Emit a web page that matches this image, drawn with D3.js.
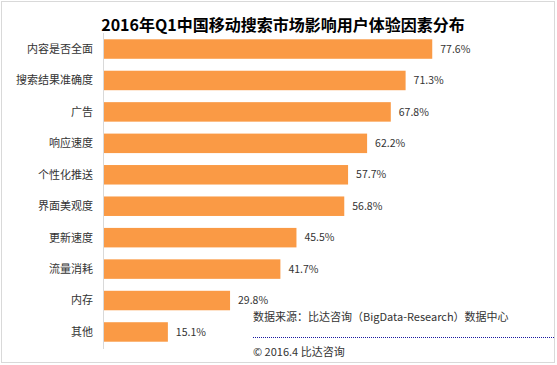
<!DOCTYPE html>
<html><head><meta charset="utf-8">
<script src="https://cdn.jsdelivr.net/npm/d3@7/dist/d3.min.js"></script>
<style>
html,body{margin:0;padding:0;background:#fff;}
svg{display:block;}
</style></head>
<body>
<svg id="c" width="557" height="365"></svg>
<script>
const title = "2016年Q1中国移动搜索市场影响用户体验因素分布";
const categories = ["内容是否全面","搜索结果准确度","广告","响应速度","个性化推送","界面美观度","更新速度","流量消耗","内存","其他"];
const values = [77.6, 71.3, 67.8, 62.2, 57.7, 56.8, 45.5, 41.7, 29.8, 15.1];
const sourceText = "数据来源：比达咨询（BigData-Research）数据中心";
const copyrightText = "© 2016.4 比达咨询";

const font = "'Noto Sans CJK SC','Microsoft YaHei',sans-serif";
const svg = d3.select("#c");

svg.append("rect").attr("x",1.5).attr("y",1.5).attr("width",553).attr("height",361)
  .attr("fill","#fff").attr("stroke","#d9d9d9").attr("stroke-width",1);

svg.append("text").attr("x",283).attr("y",31).attr("text-anchor","middle")
  .attr("font-family",font).attr("font-weight","bold").attr("font-size",16).attr("fill","#000")
  .text(title);

const y = d3.scaleBand().domain(categories).range([33,348]).paddingInner(0.38).paddingOuter(0.2);
const x = d3.scaleLinear().domain([0,100]).range([104,527]);

svg.append("line").attr("x1",103.5).attr("x2",103.5).attr("y1",33).attr("y2",349)
  .attr("stroke","#d9d9d9").attr("stroke-width",1);

const data = categories.map((c,i)=>({c, v: values[i]}));

svg.selectAll("rect.bar").data(data).enter().append("rect").attr("class","bar")
  .attr("x",x(0)).attr("y",d=>y(d.c)).attr("width",d=>x(d.v)-x(0)).attr("height",y.bandwidth())
  .attr("fill","#fa9a45");

svg.selectAll("text.cat").data(data).enter().append("text").attr("class","cat")
  .attr("x",93).attr("y",d=>y(d.c)+y.bandwidth()/2).attr("dy","0.35em").attr("text-anchor","end")
  .attr("font-family",font).attr("font-size",11).attr("fill","#333").text(d=>d.c);

svg.selectAll("text.val").data(data).enter().append("text").attr("class","val")
  .attr("x",d=>x(d.v)+8).attr("y",d=>y(d.c)+y.bandwidth()/2).attr("dy","0.35em")
  .attr("font-family",font).attr("font-size",10.5).attr("fill","#333").text(d=>d.v.toFixed(1)+"%");

svg.append("text").attr("x",253).attr("y",317).attr("dy","0.35em")
  .attr("font-family",font).attr("font-size",11).attr("fill","#333").text(sourceText);
svg.append("line").attr("x1",253).attr("x2",555).attr("y1",337.5).attr("y2",337.5)
  .attr("stroke","#1a1aa0").attr("stroke-width",1).attr("stroke-dasharray","1,1");
svg.append("text").attr("x",253).attr("y",352).attr("dy","0.35em")
  .attr("font-family",font).attr("font-size",11).attr("fill","#333").text(copyrightText);
</script>
</body></html>
